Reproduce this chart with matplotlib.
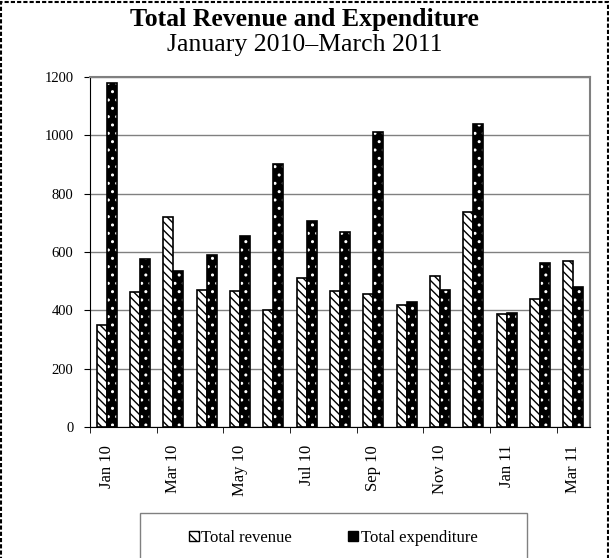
import numpy as np
import matplotlib.pyplot as plt
from matplotlib.patches import Rectangle, Patch

plt.rcParams['font.family'] = ['Liberation Serif', 'DejaVu Serif']

# 数据
months = ['Jan 10', 'Feb 10', 'Mar 10', 'Apr 10', 'May 10', 'Jun 10', 'Jul 10',
          'Aug 10', 'Sep 10', 'Oct 10', 'Nov 10', 'Dec 10', 'Jan 11', 'Feb 11',
          'Mar 11']
revenue = [350, 461, 720, 468, 466, 402, 512, 465, 457, 418, 517, 737, 388, 437, 568]
expenditure = [1180, 575, 533, 590, 655, 902, 705, 670, 1012, 428, 470, 1040, 390, 562, 480]

fig = plt.figure(figsize=(6.09, 5.58), dpi=100)
ax = fig.add_axes([0.148, 0.235, 0.821, 0.627])

x = np.arange(len(months))
w = 0.3

# 收入: 白底斜线
ax.bar(x - w / 2, revenue, w, color='white', edgecolor='black', hatch='\\\\\\\\',
       linewidth=1.2, zorder=3)
# 支出: 黑底白点
ax.bar(x + w / 2, expenditure, w, color='black', edgecolor='white', hatch='..',
       linewidth=0, zorder=3)
ax.bar(x + w / 2, expenditure, w, fill=False, edgecolor='black', linewidth=1.2,
       zorder=4)

ax.set_xlim(-0.5, len(months) - 0.5)
ax.set_ylim(0, 1200)
ax.set_yticks(range(0, 1201, 200))
ax.tick_params(axis='y', labelsize=10.5, length=4, direction='out', pad=8)
ax.yaxis.grid(True, color='#808080', linewidth=1, zorder=0)
ax.set_axisbelow(True)

ax.set_xticks(x[::2])
ax.set_xticklabels(months[::2], rotation=90, fontsize=12)
ax.tick_params(axis='x', which='major', length=0, pad=13)
ax.set_xticks(np.arange(-0.5, len(months), 2), minor=True)
ax.tick_params(axis='x', which='minor', length=4, direction='out')

for s in ['top', 'right']:
    ax.spines[s].set_color('#808080')
    ax.spines[s].set_linewidth(1.5)
ax.spines['left'].set_color('black')
ax.spines['bottom'].set_color('black')

fig.text(0.5, 0.965, 'Total Revenue and Expenditure', ha='center', va='center',
         fontsize=18.5, fontweight='bold')
fig.text(0.5, 0.92, 'January 2010\u2013March 2011', ha='center', va='center',
         fontsize=18.5)

# 图例
handles = [Patch(facecolor='white', edgecolor='black', hatch='\\\\\\', label='Total revenue'),
           Patch(facecolor='black', edgecolor='black', label='Total expenditure')]
leg = fig.legend(handles=handles, loc='center', bbox_to_anchor=(0.547, 0.036),
                 ncol=2, frameon=False, fontsize=12,
                 handlelength=0.6, handleheight=0.6, handletextpad=0.15,
                 columnspacing=3.4)
fig.patches.append(Rectangle((140 / 609, -0.05), 387 / 609, 0.05 + 45 / 558,
                             transform=fig.transFigure, fill=False,
                             edgecolor='#808080', linewidth=1))

# 外框虚线
fig.patches.append(Rectangle((0.002, -0.01), 0.996, 1.007, transform=fig.transFigure,
                             fill=False, edgecolor='black', linestyle=(0, (2, 1)),
                             linewidth=1.5))

fig.savefig('out.png', dpi=100)
